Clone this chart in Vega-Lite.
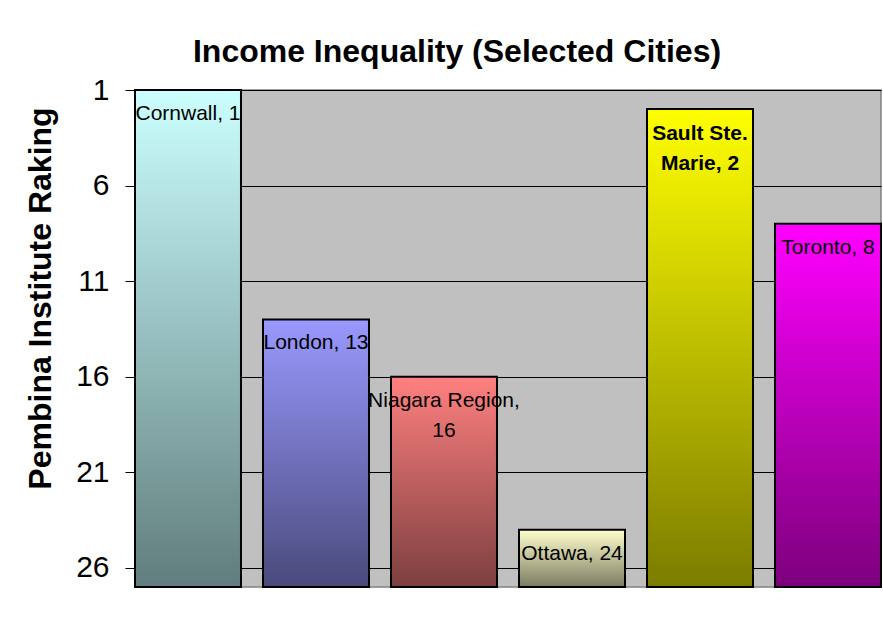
{
  "$schema": "https://vega.github.io/schema/vega-lite/v6.json",
  "width": 746,
  "height": 497,
  "autosize": {"type": "none"},
  "padding": {"left": 135, "top": 90, "right": 2, "bottom": 41},
  "background": "white",
  "title": {
    "text": "Income Inequality (Selected Cities)",
    "font": "Liberation Sans",
    "fontSize": 32,
    "fontWeight": "bold",
    "color": "black",
    "anchor": "middle",
    "baseline": "alphabetic",
    "dx": -51,
    "dy": 32,
    "offset": 13
  },
  "config": {
    "font": "Liberation Sans",
    "view": {"fill": "#C0C0C0", "stroke": "#808080", "strokeWidth": 1.5}
  },
  "data": {
    "values": [
      {"city": "Cornwall", "rank": 1, "label": ["Cornwall, 1"]},
      {"city": "London", "rank": 13, "label": ["London, 13"]},
      {"city": "Niagara Region", "rank": 16, "label": ["Niagara Region,", "16"]},
      {"city": "Ottawa", "rank": 24, "label": ["Ottawa, 24"]},
      {"city": "Sault Ste. Marie", "rank": 2, "label": ["Sault Ste.", "Marie, 2"]},
      {"city": "Toronto", "rank": 8, "label": ["Toronto, 8"]}
    ]
  },
  "encoding": {
    "x": {
      "field": "city",
      "type": "nominal",
      "sort": null,
      "axis": null,
      "scale": {"domain": ["Cornwall", "London", "Niagara Region", "Ottawa", "Sault Ste. Marie", "Toronto"], "paddingInner": 0.172, "paddingOuter": 0}
    },
    "y": {
      "field": "rank",
      "type": "quantitative",
      "scale": {"domain": [1, 27], "reverse": true, "nice": false, "zero": false},
      "axis": {
        "values": [1, 6, 11, 16, 21, 26],
        "title": "Pembina Institute Raking",
        "titleFont": "Liberation Sans",
        "titleFontSize": 32,
        "titleFontWeight": "bold",
        "titleColor": "black",
        "titleAngle": -90,
        "titleAlign": "center",
        "titleBaseline": "middle",
        "titleX": -95,
        "titleY": 208,
        "labelFont": "Liberation Sans",
        "labelFontSize": 30,
        "labelColor": "black",
        "labelPadding": 16,
        "tickSize": 10,
        "tickColor": "black",
        "tickWidth": 1,
        "domain": true,
        "domainColor": "black",
        "domainWidth": 1,
        "grid": true,
        "gridColor": "black",
        "gridWidth": 1,
        "gridOpacity": 1
      }
    }
  },
  "layer": [
    {
      "transform": [{"filter": "datum.city == 'Cornwall'"}],
      "mark": {"type": "bar", "stroke": "black", "strokeWidth": 2,
        "fill": {"gradient": "linear", "x1": 0, "y1": 0, "x2": 0, "y2": 1, "stops": [{"offset": 0, "color": "#CCFFFF"}, {"offset": 1, "color": "#617D7D"}]}},
      "encoding": {"y2": {"datum": 27}}
    },
    {
      "transform": [{"filter": "datum.city == 'London'"}],
      "mark": {"type": "bar", "stroke": "black", "strokeWidth": 2,
        "fill": {"gradient": "linear", "x1": 0, "y1": 0, "x2": 0, "y2": 1, "stops": [{"offset": 0, "color": "#9999FF"}, {"offset": 1, "color": "#4A4A7C"}]}},
      "encoding": {"y2": {"datum": 27}}
    },
    {
      "transform": [{"filter": "datum.city == 'Niagara Region'"}],
      "mark": {"type": "bar", "stroke": "black", "strokeWidth": 2,
        "fill": {"gradient": "linear", "x1": 0, "y1": 0, "x2": 0, "y2": 1, "stops": [{"offset": 0, "color": "#FF8080"}, {"offset": 1, "color": "#7C3F3F"}]}},
      "encoding": {"y2": {"datum": 27}}
    },
    {
      "transform": [{"filter": "datum.city == 'Ottawa'"}],
      "mark": {"type": "bar", "stroke": "black", "strokeWidth": 2,
        "fill": {"gradient": "linear", "x1": 0, "y1": 0, "x2": 0, "y2": 1, "stops": [{"offset": 0, "color": "#FFFFCC"}, {"offset": 1, "color": "#7C7C63"}]}},
      "encoding": {"y2": {"datum": 27}}
    },
    {
      "transform": [{"filter": "datum.city == 'Sault Ste. Marie'"}],
      "mark": {"type": "bar", "stroke": "black", "strokeWidth": 2,
        "fill": {"gradient": "linear", "x1": 0, "y1": 0, "x2": 0, "y2": 1, "stops": [{"offset": 0, "color": "#FFFF00"}, {"offset": 1, "color": "#7C7C00"}]}},
      "encoding": {"y2": {"datum": 27}}
    },
    {
      "transform": [{"filter": "datum.city == 'Toronto'"}],
      "mark": {"type": "bar", "stroke": "black", "strokeWidth": 2,
        "fill": {"gradient": "linear", "x1": 0, "y1": 0, "x2": 0, "y2": 1, "stops": [{"offset": 0, "color": "#FF00FF"}, {"offset": 1, "color": "#7C007C"}]}},
      "encoding": {"y2": {"datum": 27}}
    },
    {
      "transform": [{"filter": "datum.city != 'Sault Ste. Marie'"}],
      "mark": {
        "type": "text",
        "baseline": "alphabetic",
        "align": "center",
        "dy": 30,
        "font": "Liberation Sans",
        "fontSize": 21,
        "lineHeight": 30,
        "color": "black"
      },
      "encoding": {
        "text": {"field": "label"}
      }
    },
    {
      "transform": [{"filter": "datum.city == 'Sault Ste. Marie'"}],
      "mark": {
        "type": "text",
        "baseline": "alphabetic",
        "align": "center",
        "dy": 31,
        "font": "Liberation Sans",
        "fontSize": 21,
        "fontWeight": "bold",
        "lineHeight": 30,
        "color": "black"
      },
      "encoding": {
        "text": {"field": "label"}
      }
    }
  ]
}
